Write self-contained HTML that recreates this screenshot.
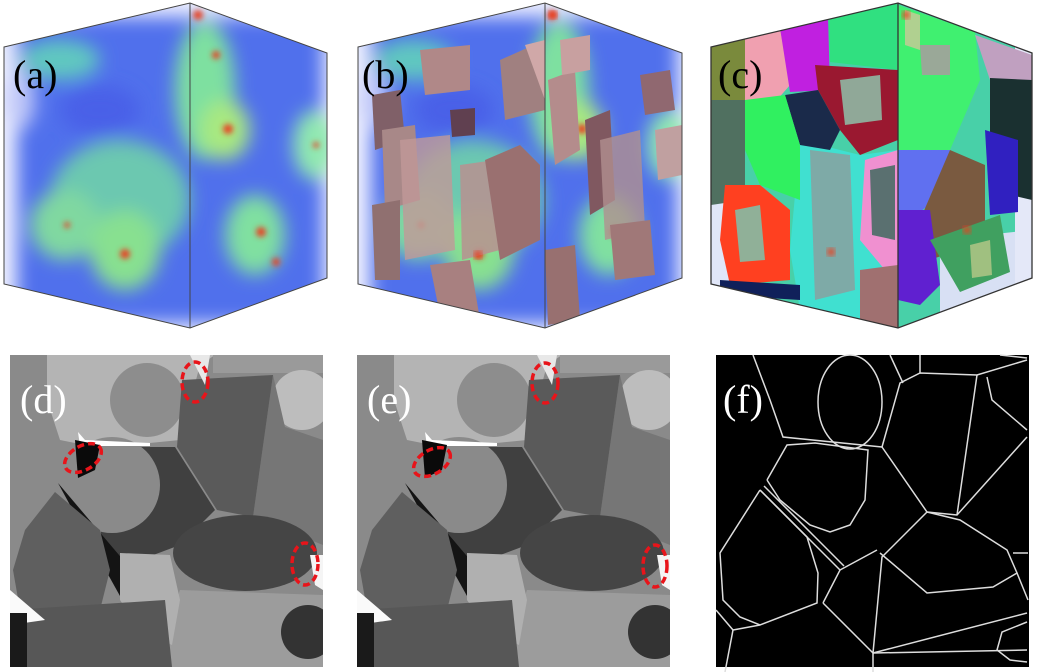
<!DOCTYPE html>
<html><head><meta charset="utf-8"><style>
html,body{margin:0;padding:0;background:#fff;}
svg{display:block;}
text{font-family:"Liberation Serif",serif;}
</style></head><body>
<svg width="1040" height="672" viewBox="0 0 1040 672">
<defs>
<filter id="bl" x="-20%" y="-20%" width="140%" height="140%"><feGaussianBlur stdDeviation="9"/></filter>
<filter id="bl2"><feGaussianBlur stdDeviation="3"/></filter>
<clipPath id="ca"><polygon points="4,47 190,3 327,53 327,278 190,328 4,284"/></clipPath>
<clipPath id="cb"><polygon points="358,47 545,3 682,53 682,278 545,328 358,284"/></clipPath>
<clipPath id="cc"><polygon points="711,47 898,3 1032,53 1032,278 898,328 711,284"/></clipPath>
<clipPath id="cd"><rect x="10" y="355" width="313" height="312"/></clipPath>
<g id="blobs">
 <rect x="0" y="0" width="340" height="340" fill="#5070ec"/>
 <g filter="url(#bl)">
  <rect x="0" y="0" width="340" height="340" fill="none" stroke="#eef0ff" stroke-width="34"/>
  <ellipse cx="205" cy="90" rx="30" ry="70" fill="#7ee0a0"/>
  <ellipse cx="225" cy="130" rx="25" ry="30" fill="#a8e880"/>
  <ellipse cx="120" cy="200" rx="70" ry="60" fill="#6cc8b0"/>
  <ellipse cx="65" cy="225" rx="35" ry="35" fill="#80d8a0"/>
  <ellipse cx="125" cy="250" rx="35" ry="40" fill="#88e090"/>
  <ellipse cx="255" cy="235" rx="30" ry="40" fill="#80e0a0"/>
  <ellipse cx="315" cy="145" rx="22" ry="35" fill="#90e8b0"/>
  <ellipse cx="60" cy="60" rx="40" ry="20" fill="#60c8c0"/>
  <ellipse cx="100" cy="110" rx="40" ry="25" fill="#4860e8"/>
  <ellipse cx="20" cy="100" rx="15" ry="30" fill="#c0c8f8"/>
 </g>
 <g filter="url(#bl2)" fill="#e84020">
  <circle cx="198" cy="15" r="5"/><circle cx="216" cy="55" r="4"/><circle cx="228" cy="129" r="5"/>
  <circle cx="125" cy="254" r="5"/><circle cx="261" cy="232" r="5"/><circle cx="276" cy="262" r="4"/>
  <circle cx="316" cy="145" r="3"/><circle cx="67" cy="225" r="3"/>
 </g>
</g>
<g id="gray">
 <g clip-path="url(#cd)">
 <rect x="10" y="355" width="313" height="312" fill="#8a8a8a"/>
 <polygon points="47,355 215,355 200,365 180,440 100,448 60,440 47,400" fill="#b4b4b4"/>
 <rect x="213" y="355" width="110" height="18" fill="#9a9a9a"/>
 <ellipse cx="302" cy="400" rx="30" ry="30" fill="#bdbdbd"/>
 <circle cx="147" cy="400" r="37" fill="#8d8d8d"/>
 <polygon points="273,375 285,427 323,440 323,545 253,517" fill="#767676"/>
 <polygon points="182,380 273,375 253,517 217,510 177,447" fill="#5a5a5a"/>
 <polygon points="110,447 175,447 215,510 180,545 140,560 120,578 100,540" fill="#404040"/>
 <circle cx="112" cy="485" r="48" fill="#8a8a8a"/>
 <polygon points="58,483 130,568 125,605 100,560" fill="#141414"/>
 <polygon points="55,492 25,530 13,570 20,610 60,617 100,610 110,570 100,530" fill="#5f5f5f"/>
 <ellipse cx="245" cy="553" rx="72" ry="38" fill="#454545"/>
 <polygon points="180,590 323,595 323,667 165,667 170,620" fill="#9c9c9c"/>
 <polygon points="120,553 170,555 180,600 172,645 140,630 120,600" fill="#b0b0b0"/>
 <polygon points="10,610 165,600 172,667 10,667" fill="#575757"/>
 <polygon points="10,590 45,620 10,625" fill="#fafafa"/>
 <rect x="10" y="613" width="17" height="54" fill="#1a1a1a"/>
 <circle cx="308" cy="632" r="27" fill="#333"/>
 <polygon points="78,432 85,440 150,443 150,446 80,446" fill="#fff"/>
 <polygon points="75,440 100,445 95,470 78,478" fill="#0a0a0a"/>
 <polygon points="310,555 323,555 323,590 315,585" fill="#f5f5f5"/>
 <polygon points="190,355 210,355 205,385" fill="#e8e8e8"/>
 </g>
</g>
</defs>

<g>
 <g clip-path="url(#ca)"><use href="#blobs"/></g>
 <g fill="none" stroke="#444" stroke-width="1">
  <polygon points="4,47 190,3 327,53 327,278 190,328 4,284"/>
  <line x1="190" y1="3" x2="190" y2="328"/>
 </g>
 <text x="13" y="88" font-size="40" fill="#000">(a)</text>
</g>

<g>
 <g clip-path="url(#cb)">
  <use href="#blobs" transform="translate(354,0)"/>
  <g>
   <polygon points="372,95 400,90 405,140 375,150" fill="#806068"/>
   <polygon points="382,130 415,125 420,200 385,210" fill="#a88888"/>
   <polygon points="400,140 450,135 455,250 405,260" fill="#c09898" opacity="0.8"/>
   <polygon points="372,205 400,200 400,280 375,280" fill="#907070"/>
   <polygon points="420,50 470,45 470,90 425,95" fill="#b08888"/>
   <polygon points="450,110 475,108 475,135 452,137" fill="#604050"/>
   <polygon points="460,165 495,160 500,250 462,260" fill="#b89090" opacity="0.85"/>
   <polygon points="485,160 520,145 540,165 540,240 500,260" fill="#9a7070"/>
   <polygon points="500,60 545,40 545,110 505,120" fill="#a08080"/>
   <polygon points="525,45 545,40 545,100" fill="#d0a8a8"/>
   <polygon points="548,80 575,70 580,150 555,165" fill="#b48c8c"/>
   <polygon points="560,40 590,35 590,70 562,75" fill="#c8a0a0"/>
   <polygon points="585,120 610,110 615,200 590,215" fill="#805860"/>
   <polygon points="600,140 640,130 645,230 605,240" fill="#b09090" opacity="0.8"/>
   <polygon points="610,225 650,220 655,275 615,280" fill="#a07878"/>
   <polygon points="640,75 670,70 675,110 645,115" fill="#906870"/>
   <polygon points="430,265 470,260 480,320 440,315" fill="#a88080"/>
   <polygon points="545,250 575,245 580,320 548,325" fill="#987070"/>
   <polygon points="655,130 682,125 682,175 658,180" fill="#c0a0a0"/>
  </g>
  <circle cx="478" cy="255" r="4" fill="#e84020" filter="url(#bl2)"/>
  <circle cx="553" cy="15" r="4" fill="#e84020" filter="url(#bl2)"/>
 </g>
 <g fill="none" stroke="#444" stroke-width="1">
  <polygon points="358,47 545,3 682,53 682,278 545,328 358,284"/>
  <line x1="545" y1="3" x2="545" y2="328"/>
 </g>
 <text x="362" y="88" font-size="40" fill="#000">(b)</text>
</g>

<g>
 <g clip-path="url(#cc)">
  <rect x="700" y="0" width="340" height="340" fill="#48d0a8"/>
  <polygon points="940,240 1032,230 1032,290 940,320" fill="#d8e0f4"/>
  <rect x="1015" y="40" width="20" height="260" fill="#e4e8f8"/>
  <polygon points="711,200 760,195 760,300 711,300" fill="#e0e6f8"/>
  <polygon points="800,140 860,155 898,150 898,328 860,325 800,310 790,250" fill="#40e0d0"/>
  <polygon points="810,150 850,155 855,290 815,300" fill="#8aa0a0" opacity="0.85"/>
  <polygon points="711,40 745,35 745,100 711,100" fill="#7a8a3c"/>
  <polygon points="745,35 780,28 790,85 770,108 745,100" fill="#f0a0b0"/>
  <polygon points="780,28 828,15 830,90 790,92" fill="#c020e0"/>
  <polygon points="828,15 898,3 898,70 830,62" fill="#30e080"/>
  <polygon points="815,65 898,70 945,85 940,120 898,140 860,155 840,130 818,90" fill="#9a1830"/>
  <polygon points="840,80 880,75 882,120 845,125" fill="#90a898"/>
  <polygon points="785,95 818,90 840,130 830,150 800,145" fill="#1a2a4a"/>
  <polygon points="745,100 785,95 800,145 800,200 760,185 745,150" fill="#30f060"/>
  <polygon points="711,100 745,100 745,200 711,205" fill="#507060"/>
  <polygon points="725,185 760,185 790,210 790,280 730,285 720,240" fill="#ff4020"/>
  <polygon points="735,210 760,205 765,260 740,262" fill="#90b098"/>
  <polygon points="865,160 898,150 898,275 885,270 860,240" fill="#f090d0"/>
  <polygon points="870,170 895,165 895,240 872,235" fill="#5a7070"/>
  <polygon points="898,5 975,32 980,80 950,150 898,150" fill="#40f070"/>
  <polygon points="905,10 920,15 920,50 905,45" fill="#b0d090"/>
  <polygon points="920,45 950,45 950,75 922,75" fill="#9aa898"/>
  <polygon points="898,150 950,150 935,200 910,220 898,210" fill="#6070f0"/>
  <polygon points="950,150 985,165 985,240 930,260 920,220" fill="#7a5a40"/>
  <polygon points="898,210 930,210 940,285 920,305 898,300" fill="#6020d0"/>
  <polygon points="975,35 1032,55 1032,80 990,80" fill="#c0a0c0"/>
  <polygon points="990,78 1032,80 1032,200 990,190" fill="#1a3030"/>
  <polygon points="985,130 1018,140 1018,212 990,215" fill="#3020c0"/>
  <polygon points="930,240 1000,215 1010,272 960,292" fill="#40a060"/>
  <polygon points="970,245 990,240 992,275 972,278" fill="#a0c080"/>
  <polygon points="860,270 898,265 898,328 860,322" fill="#a07070"/>
  <polygon points="720,280 800,285 800,300 720,295" fill="#10205a"/>
  <circle cx="831" cy="252" r="4" fill="#e84020" filter="url(#bl2)"/>
  <circle cx="906" cy="15" r="4" fill="#e84020" filter="url(#bl2)"/>
  <circle cx="967" cy="230" r="4" fill="#e84020" filter="url(#bl2)"/>
 </g>
 <g fill="none" stroke="#333" stroke-width="1.3">
  <polygon points="711,47 898,3 1032,53 1032,278 898,328 711,284"/>
  <line x1="898" y1="3" x2="898" y2="328"/>
 </g>
 <text x="718" y="88" font-size="40" fill="#000">(c)</text>
</g>

<g>
 <use href="#gray"/>
 <g fill="none" stroke="#e8141a" stroke-width="3.5" stroke-dasharray="7,4">
  <ellipse cx="195" cy="382" rx="13" ry="20"/>
  <ellipse cx="83" cy="458" rx="20" ry="12" transform="rotate(-30 83 458)"/>
  <ellipse cx="305" cy="564" rx="13" ry="21"/>
 </g>
 <text x="20" y="413" font-size="40" fill="#fff">(d)</text>
</g>

<g>
 <use href="#gray" transform="translate(347,0)"/>
 <g fill="none" stroke="#e8141a" stroke-width="3.5" stroke-dasharray="7,4">
  <ellipse cx="545" cy="383" rx="13" ry="20"/>
  <ellipse cx="432" cy="462" rx="20" ry="12" transform="rotate(-30 432 462)"/>
  <ellipse cx="655" cy="566" rx="12" ry="21"/>
 </g>
 <text x="367" y="413" font-size="40" fill="#fff">(e)</text>
</g>

<g>
 <rect x="716" y="355" width="313" height="312" fill="#000"/>
 <g fill="none" stroke="#ddd" stroke-width="1.5">
  <ellipse cx="850" cy="402" rx="32" ry="47"/>
  <polyline points="753,355 770,400 783,437 882,447"/>
  <polyline points="882,447 900,383 920,373 977,375 1027,360"/>
  <line x1="977" y1="375" x2="957" y2="515"/>
  <polyline points="882,447 927,512 957,515 1027,437"/>
  <polyline points="987,377 992,400 1027,430"/>
  <polyline points="767,480 787,445 815,443 868,450 865,500 850,525 830,532 810,525 780,500 767,480"/>
  <polyline points="760,490 840,570"/>
  <polyline points="764,486 844,566"/>
  <polyline points="760,490 720,553 723,600 740,617 760,625 817,603 818,573 807,537 760,490"/>
  <polyline points="823,603 873,653 882,557 927,512"/>
  <polyline points="823,603 840,570 877,550"/>
  <polyline points="880,553 927,593 993,587 1017,573 1007,550 960,520 927,512"/>
  <polyline points="873,653 1027,613"/>
  <polyline points="873,653 873,672"/>
  <polyline points="873,653 1027,650"/>
  <polyline points="733,630 760,625"/>
  <polyline points="733,630 725,672"/>
  <polyline points="1027,622 1002,632 997,650 1010,660 1027,662"/>
  <polyline points="1013,553 1028,553"/>
  <polyline points="1017,573 1028,600"/>
  <polyline points="890,355 903,383"/>
  <polyline points="920,355 920,373"/>
  <polyline points="1000,355 1027,358"/>
  <polyline points="716,610 733,630"/>
 </g>
 <text x="723" y="413" font-size="40" fill="#fff">(f)</text>
</g>
</svg>
</body></html>
